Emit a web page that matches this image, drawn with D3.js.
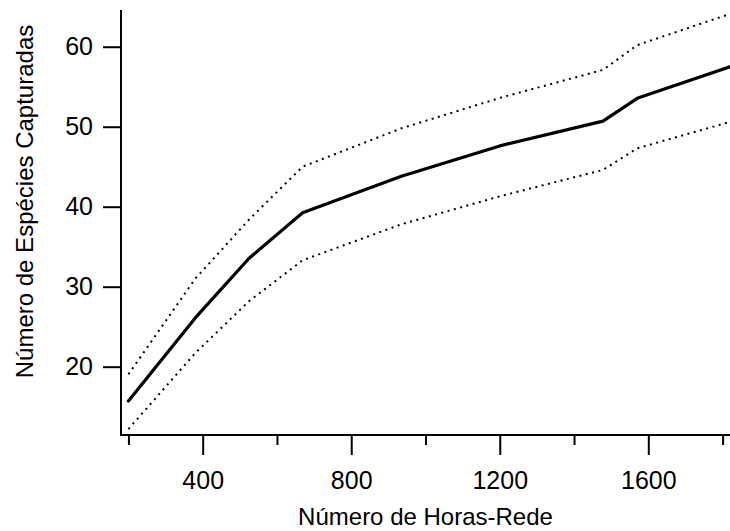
<!DOCTYPE html>
<html>
<head>
<meta charset="utf-8">
<script src="https://cdn.jsdelivr.net/npm/d3@7/dist/d3.min.js"></script>
<style>
  html, body { margin: 0; padding: 0; background: #fff; }
  svg { display: block; }
  text { font-family: "Liberation Sans", Arial, Helvetica, sans-serif; fill: #000; }
</style>
</head>
<body>
<svg id="chart" width="730" height="531"></svg>
<script>
// Data
const hours = [200, 380, 525, 669, 935, 1200, 1478, 1570, 1820];
const species = [15.7, 26.1, 33.55, 39.25, 43.8, 47.6, 50.7, 53.55, 57.5];
const upperCI = [19.05, 31.0, 38.4, 45.0, 49.8, 53.6, 57.1, 60.2, 64.1];
const lowerCI = [12.2, 21.7, 28.2, 33.3, 37.8, 41.3, 44.6, 47.3, 50.6];
const xMajorTicks = [400, 800, 1200, 1600];
const xMinorTicks = [200, 600, 1000, 1400, 1800];
const yTicks = [20, 30, 40, 50, 60];
const xTitle = "Número de Horas-Rede";
const yTitle = "Número de Espécies Capturadas";

(function () {
const svg = d3.select("#chart");
const pL = 121, pR = 730, pT = 10, pB = 435;

const x = d3.scaleLinear().domain([180, 1820]).range([pL, pR]);
const y = d3.scaleLinear().domain([11.46, 64.59]).range([pB, pT]);

// Lines
const line = d3.line().x(d => x(d[0])).y(d => y(d[1]));
const mk = vals => hours.map((h, i) => [h, vals[i]]);

svg.append("path").datum(mk(upperCI))
  .attr("d", line).attr("fill", "none").attr("stroke", "#000")
  .attr("stroke-width", 2).attr("stroke-dasharray", "2,4.5");
svg.append("path").datum(mk(lowerCI))
  .attr("d", line).attr("fill", "none").attr("stroke", "#000")
  .attr("stroke-width", 2).attr("stroke-dasharray", "2,4.5");
svg.append("path").datum(mk(species))
  .attr("d", line).attr("fill", "none").attr("stroke", "#000")
  .attr("stroke-width", 3.2).attr("stroke-linejoin", "round").attr("stroke-linecap", "round");

// X axis
const gx = svg.append("g").attr("transform", `translate(0,${pB})`);
gx.call(d3.axisBottom(x).tickValues(xMajorTicks).tickSize(20).tickPadding(16).tickFormat(d3.format("d")));
gx.append("g").call(d3.axisBottom(x).tickValues(xMinorTicks).tickSize(10).tickFormat(""));
gx.selectAll(".domain").remove();
gx.append("line").attr("x1", pL - 1).attr("x2", pR).attr("stroke", "#000").attr("stroke-width", 2);
gx.selectAll(".tick line").attr("stroke", "#000").attr("stroke-width", 2);
gx.selectAll(".tick text").attr("font-size", 25).attr("font-family", "Liberation Sans, Arial, sans-serif").attr("fill", "#000");

// Y axis
const gy = svg.append("g").attr("transform", `translate(${pL},0)`);
gy.call(d3.axisLeft(y).tickValues(yTicks).tickSize(18).tickPadding(10).tickFormat(d3.format("d")));
gy.selectAll(".domain").remove();
gy.append("line").attr("y1", pT).attr("y2", pB + 1).attr("stroke", "#000").attr("stroke-width", 2);
gy.selectAll(".tick line").attr("stroke", "#000").attr("stroke-width", 2);
gy.selectAll(".tick text").attr("font-size", 25).attr("font-family", "Liberation Sans, Arial, sans-serif").attr("fill", "#000");

// Titles
svg.append("text").attr("x", (pL + pR) / 2).attr("y", 525)
  .attr("text-anchor", "middle").attr("font-size", 24).text(xTitle);
svg.append("text").attr("transform", "translate(33,201.5) rotate(-90)")
  .attr("text-anchor", "middle").attr("font-size", 24).text(yTitle);
})();
</script>
</body>
</html>
